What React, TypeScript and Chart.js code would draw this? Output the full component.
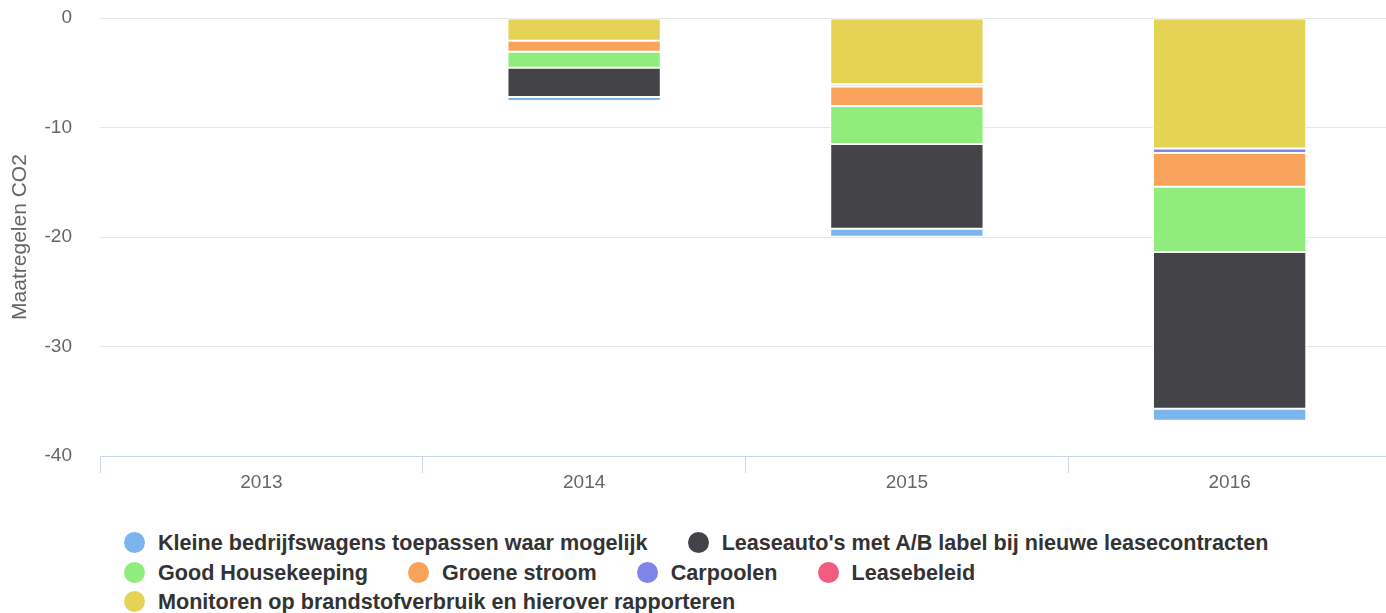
import React, { useEffect, useRef } from "react";
import { Chart, registerables } from "chart.js";

Chart.register(...registerables);

const categories = ["2013", "2014", "2015", "2016"];

const kleineBedrijfswagens = [null, -0.35, -0.73, -1.09];
const leaseautosAB = [null, -2.68, -7.75, -14.32];
const goodHousekeeping = [null, -1.46, -3.47, -5.94];
const groeneStroom = [null, -1.0, -1.78, -3.1];
const carpoolen = [null, null, -0.2, -0.4];
const leasebeleid = [null, null, null, null];
const monitoren = [null, -2.08, -6.05, -11.92];

const yTickValues = [0, -10, -20, -30, -40];

const seriesNames = [
  "Kleine bedrijfswagens toepassen waar mogelijk",
  "Leaseauto's met A/B label bij nieuwe leasecontracten",
  "Good Housekeeping",
  "Groene stroom",
  "Carpoolen",
  "Leasebeleid",
  "Monitoren op brandstofverbruik en hierover rapporteren",
];
const seriesValues = [
  kleineBedrijfswagens,
  leaseautosAB,
  goodHousekeeping,
  groeneStroom,
  carpoolen,
  leasebeleid,
  monitoren,
];
const seriesColors = [
  "#7cb5ec",
  "#434348",
  "#90ed7d",
  "#f7a35c",
  "#8085e9",
  "#f15c80",
  "#e4d354",
];

// legend rows (indices into series)
const legendRows = [[0, 1], [2, 3, 4, 5], [6]];

const FONT = "'Liberation Sans', Helvetica, Arial, sans-serif";

export default function App() {
  const canvasRef = useRef<HTMLCanvasElement | null>(null);

  useEffect(() => {
    if (!canvasRef.current) return;
    // stack: last series nearest to zero (as in reference)
    const datasets = seriesNames
      .map((name, i) => ({
        label: name,
        data: seriesValues[i],
        backgroundColor: seriesColors[i],
        borderColor: "#ffffff",
        borderWidth: 1,
        borderSkipped: false as const,
        categoryPercentage: 1,
        barPercentage: 0.475,
      }))
      .reverse();

    const chart = new Chart(canvasRef.current, {
      type: "bar",
      data: { labels: categories, datasets },
      options: {
        animation: false,
        responsive: false,
        layout: { padding: { top: 18, left: 0, right: 0, bottom: 0 } },
        plugins: {
          legend: { display: false },
          tooltip: { enabled: false },
        },
        scales: {
          x: {
            stacked: true,
            grid: {
              drawOnChartArea: false,
              drawTicks: true,
              tickLength: 17,
              color: "#ccd6eb",
            },
            border: { display: true, color: "#ccd6eb", width: 1 },
            ticks: {
              color: "#666666",
              font: { family: FONT, size: 19 },
              padding: -2,
            },
            afterFit: (scale: any) => {
              scale.height = 44;
              scale.paddingLeft = 0;
              scale.paddingRight = 0;
            },
          },
          y: {
            stacked: true,
            min: yTickValues[yTickValues.length - 1],
            max: yTickValues[0],
            afterBuildTicks: (scale: any) => {
              scale.ticks = yTickValues.map((v) => ({ value: v }));
            },
            grid: { color: "#e6e6e6", drawTicks: false },
            border: { display: false },
            ticks: {
              color: "#666666",
              font: { family: FONT, size: 19 },
              padding: 28,
            },
            title: {
              display: true,
              text: "Maatregelen CO2",
              color: "#666666",
              font: { family: FONT, size: 21 },
              padding: { top: 8, bottom: 0 },
            },
            afterFit: (scale: any) => {
              scale.width = 100;
              scale.paddingTop = 0;
              scale.paddingBottom = 0;
            },
          },
        },
      },
    });
    return () => chart.destroy();
  }, []);

  return (
    <div
      style={{
        position: "absolute",
        left: 0,
        top: 0,
        width: 1386,
        height: 613,
        overflow: "hidden",
        background: "#ffffff",
      }}
    >
      <canvas
        ref={canvasRef}
        width={1391}
        height={500}
        style={{ position: "absolute", left: 0, top: 0, width: 1391, height: 500 }}
      />
      <div
        style={{
          position: "absolute",
          left: 124,
          top: 528,
          fontFamily: FONT,
          fontWeight: "bold",
          fontSize: 21.6,
          color: "#333333",
        }}
      >
        {legendRows.map((row, r) => (
          <div
            key={r}
            style={{
              display: "flex",
              alignItems: "center",
              height: 29.5,
              lineHeight: "29.5px",
              whiteSpace: "nowrap",
            }}
          >
            {row.map((idx) => (
              <div
                key={idx}
                style={{ display: "flex", alignItems: "center", marginRight: 40 }}
              >
                <span
                  style={{
                    display: "inline-block",
                    width: 21,
                    height: 21,
                    borderRadius: "50%",
                    background: seriesColors[idx],
                    marginRight: 13,
                  }}
                />
                <span>{seriesNames[idx]}</span>
              </div>
            ))}
          </div>
        ))}
      </div>
    </div>
  );
}
